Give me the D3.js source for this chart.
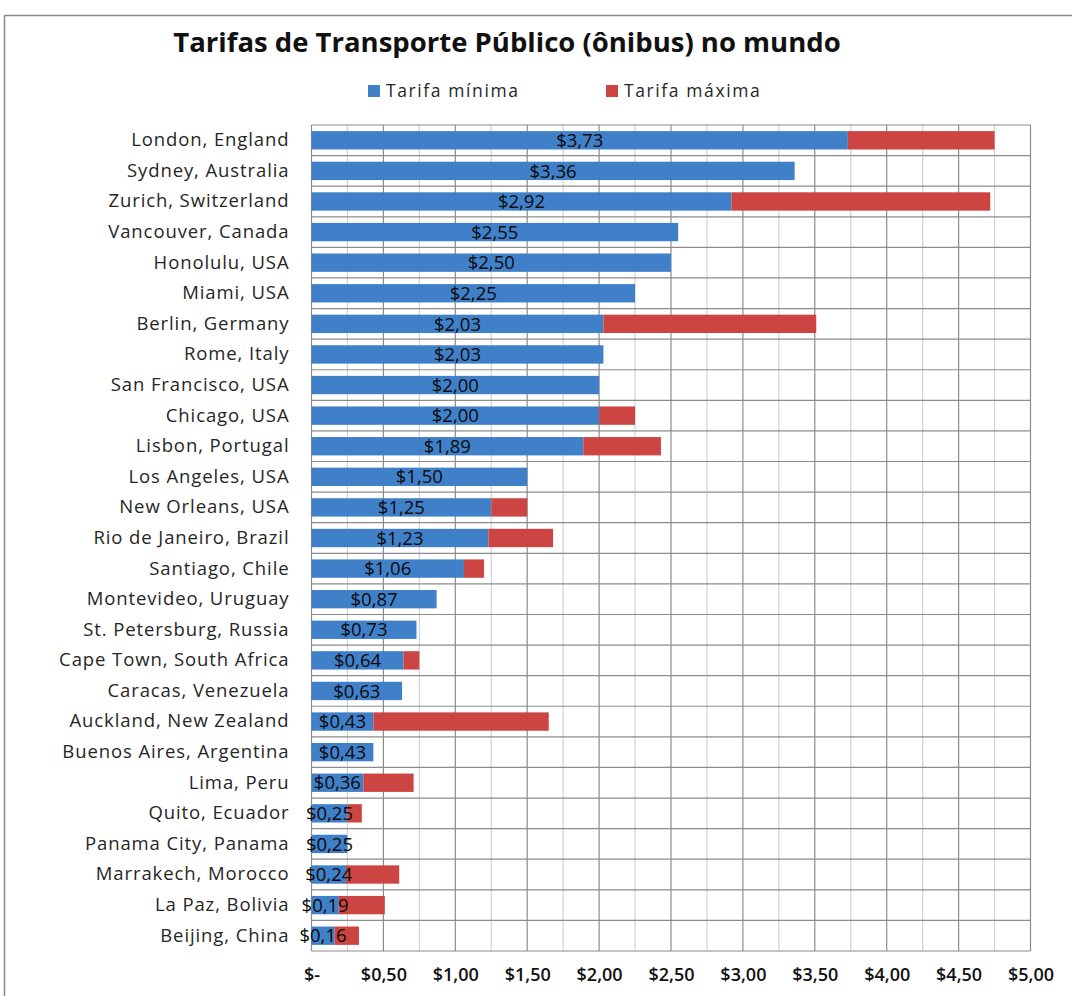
<!DOCTYPE html>
<html>
<head>
<meta charset="utf-8">
<script src="https://cdn.jsdelivr.net/npm/d3@7"></script>
<style>
  html, body { margin: 0; padding: 0; background: #fff; }
  svg { display: block; font-family: "Open Sans", "Noto Sans", sans-serif; }
</style>
</head>
<body>
<svg id="chart" width="1072" height="996"></svg>
<script>
// Cities, top to bottom
const cidades = [
  "London, England", "Sydney, Australia", "Zurich, Switzerland", "Vancouver, Canada",
  "Honolulu, USA", "Miami, USA", "Berlin, Germany", "Rome, Italy", "San Francisco, USA",
  "Chicago, USA", "Lisbon, Portugal", "Los Angeles, USA", "New Orleans, USA",
  "Rio de Janeiro, Brazil", "Santiago, Chile", "Montevideo, Uruguay", "St. Petersburg, Russia",
  "Cape Town, South Africa", "Caracas, Venezuela", "Auckland, New Zealand",
  "Buenos Aires, Argentina", "Lima, Peru", "Quito, Ecuador", "Panama City, Panama",
  "Marrakech, Morocco", "La Paz, Bolivia", "Beijing, China"
];

// Minimum fare (US$)
const tarifaMinima = [
  3.73, 3.36, 2.92, 2.55, 2.50, 2.25, 2.03, 2.03, 2.00, 2.00, 1.89, 1.50, 1.25,
  1.23, 1.06, 0.87, 0.73, 0.64, 0.63, 0.43, 0.43, 0.36, 0.25, 0.25, 0.24, 0.19, 0.16
];

// Maximum fare (US$)
const tarifaMaxima = [
  4.75, 3.36, 4.72, 2.55, 2.50, 2.25, 3.51, 2.03, 2.00, 2.25, 2.43, 1.50, 1.50,
  1.68, 1.20, 0.87, 0.73, 0.75, 0.63, 1.65, 0.43, 0.71, 0.35, 0.25, 0.61, 0.51, 0.33
];

const seriesNomes = ["Tarifa mínima", "Tarifa máxima"];
const seriesCores = ["#4080c9", "#cd4543"];
const xTicks = [0, 0.5, 1, 1.5, 2, 2.5, 3, 3.5, 4, 4.5, 5];
const titulo = "Tarifas de Transporte Público (ônibus) no mundo";

const fmt = v => v === 0 ? "$-" : "$" + v.toFixed(2).replace(".", ",");

const svg = d3.select("#chart");

// outer frame
svg.append("path")
  .attr("d", "M4.5,996 L4.5,15.5 L1072,15.5")
  .attr("fill", "none").attr("stroke", "#8a8a8a").attr("stroke-width", 1.5);

const plot = { left: 311.5, right: 1030.5, top: 125, bottom: 951 };

const x = d3.scaleLinear().domain([0, 5]).range([plot.left, plot.right]);
const y = d3.scaleBand().domain(cidades)
  .range([plot.top, plot.bottom]).paddingInner(0.4).paddingOuter(0.2);

// stacked rows: minimum, then the extra up to the maximum
const linhas = cidades.map((c, i) => ({
  cidade: c,
  minima: tarifaMinima[i],
  extra: Math.max(0, tarifaMaxima[i] - tarifaMinima[i])
}));
const stack = d3.stack().keys(["minima", "extra"]);
const camadas = stack(linhas);

// grid
const grid = svg.append("g");
const minorTicks = d3.range(0.25, 5, 0.5);
grid.selectAll(".minor").data(minorTicks).join("line")
  .attr("x1", d => x(d)).attr("x2", d => x(d))
  .attr("y1", plot.top).attr("y2", plot.bottom)
  .attr("stroke", "#d2d2d2").attr("stroke-width", 1.2);
grid.selectAll(".major").data(xTicks).join("line")
  .attr("x1", d => x(d)).attr("x2", d => x(d))
  .attr("y1", plot.top).attr("y2", plot.bottom)
  .attr("stroke", "#8c8c8c").attr("stroke-width", 1.2);
const step = y.step();
grid.selectAll(".hline").data(d3.range(cidades.length + 1)).join("line")
  .attr("x1", plot.left).attr("x2", plot.right)
  .attr("y1", i => plot.top + i * step).attr("y2", i => plot.top + i * step)
  .attr("stroke", "#8c8c8c").attr("stroke-width", 1.2);

// bars
svg.append("g").selectAll("g").data(camadas).join("g")
  .attr("fill", (d, i) => seriesCores[i])
  .selectAll("rect").data(d => d).join("rect")
  .attr("x", d => x(d[0]))
  .attr("y", d => y(d.data.cidade))
  .attr("width", d => Math.max(0, x(d[1]) - x(d[0])))
  .attr("height", y.bandwidth());

// value labels on the minimum fare
svg.append("g").selectAll("text").data(linhas).join("text")
  .attr("x", d => x(d.minima / 2))
  .attr("y", d => y(d.cidade) + y.bandwidth() / 2)
  .attr("dy", "0.36em")
  .attr("text-anchor", "middle")
  .attr("font-size", 18.5)
  .attr("fill", "#0a0a0a")
  .text(d => fmt(d.minima));

// category axis
const yAxis = svg.append("g")
  .attr("transform", `translate(${plot.left},0)`)
  .call(d3.axisLeft(y).tickSize(0).tickPadding(22));
yAxis.select(".domain").remove();
yAxis.selectAll("text")
  .attr("font-family", "'Open Sans', sans-serif")
  .attr("font-size", 18.5)
  .attr("letter-spacing", 0.9)
  .attr("fill", "#262626");

// value axis
const xAxis = svg.append("g")
  .attr("transform", `translate(0,${plot.bottom})`)
  .call(d3.axisBottom(x).tickValues(xTicks).tickFormat(fmt).tickSize(0).tickPadding(17));
xAxis.select(".domain").remove();
xAxis.selectAll("text")
  .attr("font-family", "'Open Sans', sans-serif")
  .attr("font-size", 18)
  .attr("font-weight", 600)
  .attr("fill", "#111");

// title
svg.append("text")
  .attr("x", 507).attr("y", 52)
  .attr("text-anchor", "middle")
  .attr("font-size", 27.5)
  .attr("font-weight", 700)
  .attr("fill", "#111")
  .text(titulo);

// legend
const legendX = [368, 606];
const legend = svg.append("g").selectAll("g").data(seriesNomes).join("g")
  .attr("transform", (d, i) => `translate(${legendX[i]},91)`);
legend.append("rect")
  .attr("x", 0).attr("y", -6).attr("width", 12).attr("height", 12)
  .attr("fill", (d, i) => seriesCores[i]);
legend.append("text")
  .attr("x", 18).attr("dy", "0.36em")
  .attr("font-size", 17.5)
  .attr("letter-spacing", 1.6)
  .attr("fill", "#262626")
  .text(d => d);
</script>
</body>
</html>
